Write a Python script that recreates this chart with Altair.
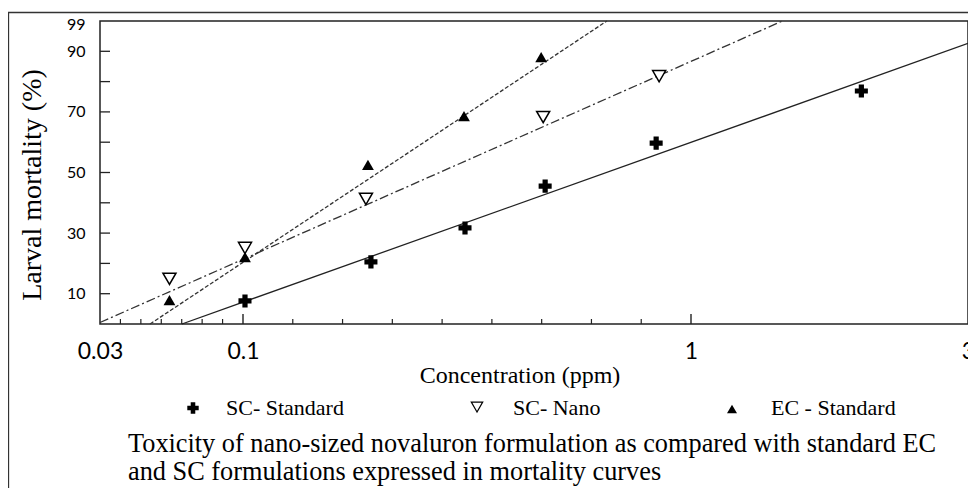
import altair as alt
import pandas as pd

# ---- axis definitions ----
x_breaks = [0.03, 0.1, 1, 3]            # labelled x ticks (piecewise axis as drawn)
x_minor = [0.04, 0.05, 0.06, 0.07, 0.08, 0.09,
           0.2, 0.3, 0.4, 0.5, 0.6, 0.7, 0.8, 0.9]
x_major = [0.1, 1]
y_ticks = [10, 20, 30, 40, 50, 60, 70, 80, 90]
y_tick_labels = [10, 30, 50, 70, 90, 99]

# ---- observed points ----
sc_std_x = [0.104, 0.357, 0.546, 0.707, 0.93, 2.23]
sc_std_y = [7.6, 20.5, 31.7, 45.5, 59.7, 76.9]
sc_nano_x = [0.064, 0.104, 0.347, 0.703, 0.936]
sc_nano_y = [14.9, 25.1, 41.3, 68.3, 81.8]
ec_std_x = [0.064, 0.104, 0.351, 0.544, 0.699]
ec_std_y = [7.9, 22.1, 52.5, 68.6, 88.1]

# ---- fitted mortality lines (end points) ----
sc_std_fit_x = [0.0701, 3.0]
sc_std_fit_y = [0.0, 92.6]
sc_nano_fit_x = [0.03, 1.66]
sc_nano_fit_y = [0.5, 100.0]
ec_std_fit_x = [0.0545, 0.831]
ec_std_fit_y = [0.0, 100.0]

W, H = 868, 303
INK = "#222222"
SERIF = "Liberation Serif"
SANS = "Lato"

xs = alt.Scale(type="linear", domain=x_breaks, range=[0, 143, 591, W], nice=False, zero=False)
ys = alt.Scale(domain=[0, 100], nice=False, zero=False)

one = pd.DataFrame({"a": [0]})

def pts(xv, yv):
    return pd.DataFrame({"x": xv, "y": yv})

X = alt.X("x:Q", scale=xs,
          axis=alt.Axis(values=x_breaks, format=".2~f", ticks=False, domain=False, grid=False,
                        labelFont=SANS, labelFontSize=23, labelColor="black", labelPadding=16,
                        labelFlush=False, labelOverlap=False, labelBound=False, title=None))
Y = alt.Y("y:Q", scale=ys,
          axis=alt.Axis(values=y_tick_labels, ticks=False, domain=False, grid=False,
                        labelFont=SANS, labelFontSize=16, labelColor="black", labelPadding=15,
                        labelOverlap=False, labelBound=False, labelFlush=False, title=None))

# frame around whole figure
frame = alt.Chart(one).mark_rect(fillOpacity=0, stroke="#333", strokeWidth=1.3).encode(
    x=alt.value(-91.5), x2=alt.value(950), y=alt.value(-8.5), y2=alt.value(900))

# inward ticks
ytick = alt.Chart(pd.DataFrame({"y": y_ticks})).mark_rule(color=INK, strokeWidth=1.3).encode(
    y=alt.Y("y:Q", scale=ys), x=alt.value(0), x2=alt.value(10))
xminor = alt.Chart(pd.DataFrame({"x": x_minor})).mark_rule(color=INK, strokeWidth=1.2).encode(
    x=alt.X("x:Q", scale=xs), y=alt.value(H), y2=alt.value(H - 5))
xmajor = alt.Chart(pd.DataFrame({"x": x_major})).mark_rule(color=INK, strokeWidth=1.4).encode(
    x=alt.X("x:Q", scale=xs), y=alt.value(H), y2=alt.value(H - 10))

# fitted lines
l_sc = alt.Chart(pts(sc_std_fit_x, sc_std_fit_y)).mark_line(color=INK, strokeWidth=1.3).encode(x=X, y=Y)
l_nano = alt.Chart(pts(sc_nano_fit_x, sc_nano_fit_y)).mark_line(
    color="#333", strokeWidth=1.3, strokeDash=[9, 3, 2, 3]).encode(x=X, y=Y)
l_ec = alt.Chart(pts(ec_std_fit_x, ec_std_fit_y)).mark_line(
    color="#333", strokeWidth=1.3, strokeDash=[4, 2]).encode(x=X, y=Y)

# points
p_sc = alt.Chart(pts(sc_std_x, sc_std_y)).mark_point(
    shape="cross", filled=True, color="black", opacity=1, size=170).encode(x=X, y=Y)
p_nano = alt.Chart(pts(sc_nano_x, sc_nano_y)).mark_point(
    shape="triangle-down", filled=False, fill="white", fillOpacity=1, stroke="black",
    strokeWidth=1.5, opacity=1, size=170).encode(x=X, y=Y)
p_ec = alt.Chart(pts(ec_std_x, ec_std_y)).mark_point(
    shape="triangle-up", filled=True, color="black", opacity=1, size=140).encode(x=X, y=Y)

def txt(s, x, y, size, font=SERIF, align="left", baseline="alphabetic", angle=0):
    return alt.Chart(one).mark_text(text=s, font=font, fontSize=size, align=align,
                                    baseline=baseline, angle=angle, color="black").encode(
        x=alt.value(x), y=alt.value(y))

ytitle = txt("Larval mortality (%)", -67, 164, 28, align="center", baseline="middle", angle=270)
xtitle = txt("Concentration (ppm)", 420, 362, 24, align="center")

# legend row
lg_sc = alt.Chart(one).mark_point(shape="cross", filled=True, color="black", opacity=1, size=130).encode(
    x=alt.value(93), y=alt.value(387))
lg_nano = alt.Chart(one).mark_point(shape="triangle-down", filled=False, stroke="black", strokeWidth=1.2,
                                    opacity=1, size=130).encode(x=alt.value(377), y=alt.value(386))
lg_ec = alt.Chart(one).mark_point(shape="triangle-up", filled=True, color="black", opacity=1, size=100).encode(
    x=alt.value(632), y=alt.value(388))
lt_sc = txt("SC- Standard", 126, 387, 22, baseline="middle")
lt_nano = txt("SC- Nano", 413, 387, 22, baseline="middle")
lt_ec = txt("EC - Standard", 671, 387, 22, baseline="middle")

cap1 = txt("Toxicity of nano-sized novaluron formulation as compared with standard EC", 28, 431, 26.3)
cap2 = txt("and SC formulations expressed in mortality curves", 28, 459, 26.3)

chart = alt.layer(
    frame, l_sc, l_nano, l_ec, p_sc, p_nano, p_ec, ytick, xminor, xmajor,
    ytitle, xtitle, lg_sc, lg_nano, lg_ec, lt_sc, lt_nano, lt_ec, cap1, cap2,
).properties(
    width=W, height=H,
    padding={"left": 92, "top": 13, "right": 0, "bottom": 164},
    autosize=alt.AutoSizeParams(type="none"),
    background="white",
).configure_view(stroke="#222", strokeWidth=1.5)

chart.save("out.html", embed_options={"renderer": "svg", "actions": False})
